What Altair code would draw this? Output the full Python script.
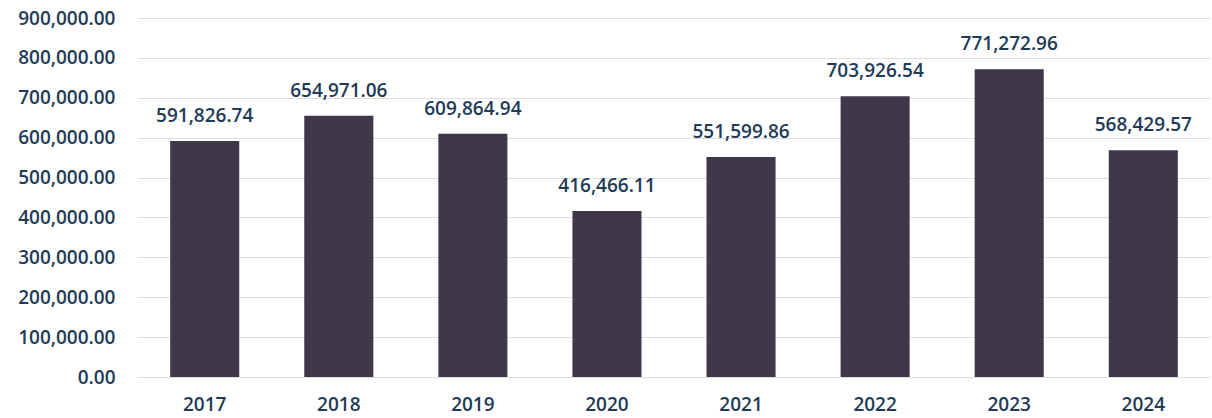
import altair as alt
import pandas as pd

years = ["2017", "2018", "2019", "2020", "2021", "2022", "2023", "2024"]
values = [591826.74, 654971.06, 609864.94, 416466.11, 551599.86, 703926.54, 771272.96, 568429.57]
y_ticks = [0, 100000, 200000, 300000, 400000, 500000, 600000, 700000, 800000, 900000]

df = pd.DataFrame({"year": years, "value": values})

FONT = "Open Sans"
TEXT_COLOR = "#1f3b57"
BAR_COLOR = "#41374a"
FS = 19
FW = 600

x = alt.X("year:N", sort=years, title=None,
          scale=alt.Scale(paddingInner=0.485, paddingOuter=0.24),
          axis=alt.Axis(labelAngle=0, domain=False, ticks=False, labelPadding=18,
                        labelFont=FONT, labelFontSize=FS, labelFontWeight=FW,
                        labelColor=TEXT_COLOR))
y = alt.Y("value:Q", title=None,
          scale=alt.Scale(domain=[0, 900000], nice=False),
          axis=alt.Axis(values=y_ticks, format=",.2f", domain=False, ticks=False,
                        labelPadding=23, labelFont=FONT, labelFontSize=FS,
                        labelFontWeight=FW, labelColor=TEXT_COLOR,
                        gridColor="#dedede", gridWidth=1.2))

base = alt.Chart(df).encode(x=x, y=y)
bars = base.mark_bar(color=BAR_COLOR)
labels = base.mark_text(baseline="alphabetic", dy=-19, font=FONT, fontSize=FS,
                        fontWeight=FW, color=TEXT_COLOR).encode(
    text=alt.Text("value:Q", format=",.2f"))

chart = (bars + labels).properties(
    width=1072, height=359,
    autosize=alt.AutoSizeParams(type="none"),
    padding={"left": 138, "top": 18, "right": 2, "bottom": 41},
    background="white",
).configure_view(stroke=None)

chart.save("out.html", embed_options={"renderer": "svg", "actions": False})
